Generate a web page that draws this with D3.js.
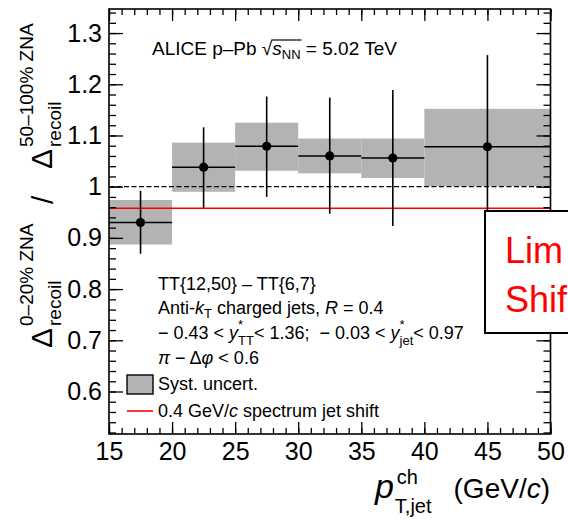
<!DOCTYPE html>
<html><head><meta charset="utf-8">
<script src="https://cdn.jsdelivr.net/npm/d3@7"></script>
<style>
body{margin:0;background:#fff}
svg{display:block}
text{font-family:"Liberation Sans",Arial,Helvetica,sans-serif;fill:#000;white-space:pre}
</style>
</head><body>
<svg id="c" width="568" height="519"></svg>
<script>
// ---------- data ----------
const binLow   = [15, 20, 25, 30, 35, 40];
const binHigh  = [20, 25, 30, 35, 40, 50];
const ptCenter = [17.5, 22.5, 27.5, 32.5, 37.5, 45];
const ratio    = [0.930, 1.038, 1.079, 1.060, 1.056, 1.078];
const statLow  = [0.869, 0.958, 0.980, 0.947, 0.923, 0.897];
const statHigh = [0.992, 1.116, 1.176, 1.174, 1.189, 1.257];
const systLow  = [0.887, 0.990, 1.031, 1.026, 1.017, 1.001];
const systHigh = [0.974, 1.086, 1.125, 1.094, 1.094, 1.152];
const shiftLevel = 0.958;
const refLevel = 1.0;
const xMajorTicks = [15, 20, 25, 30, 35, 40, 45, 50];
const xTickLabels = ["15","20","25","30","35","40","45","50"];
const yMajorTicks = [0.6, 0.7, 0.8, 0.9, 1.0, 1.1, 1.2, 1.3];
const yTickLabels = ["0.6","0.7","0.8","0.9","1","1.1","1.2","1.3"];
const xMinorTicks = d3.range(15, 51, 1);
const yMinorTicks = d3.range(26, 68, 1).map(v => +(v * 0.02).toFixed(2));
const xDomain = [15, 50];
const yDomain = [0.517, 1.347];

// ---------- layout ----------
const L = 109, R = 550.5, T = 9, B = 434;
const svg = d3.select("#c");
const x = d3.scaleLinear().domain(xDomain).range([L, R]);
const y = d3.scaleLinear().domain(yDomain).range([B, T]);
const GRAY = "#b3b3b3";
const idx = d3.range(ratio.length);

// syst boxes
svg.append("g").selectAll("rect").data(idx).join("rect")
  .attr("x", i => x(binLow[i])).attr("width", i => x(binHigh[i]) - x(binLow[i]))
  .attr("y", i => y(systHigh[i])).attr("height", i => y(systLow[i]) - y(systHigh[i]))
  .attr("fill", GRAY);

// reference line at 1
svg.append("line").attr("x1", x(xDomain[0])).attr("x2", x(xDomain[1]))
  .attr("y1", y(refLevel)).attr("y2", y(refLevel))
  .attr("stroke", "#000").attr("stroke-width", 1.2).attr("stroke-dasharray", "5,2.5");

// red shift line
svg.append("line").attr("x1", x(xDomain[0])).attr("x2", x(xDomain[1]))
  .attr("y1", y(shiftLevel)).attr("y2", y(shiftLevel))
  .attr("stroke", "#ff0000").attr("stroke-width", 1.6);

// error bars
const eb = svg.append("g").attr("stroke", "#000").attr("stroke-width", 1.6);
eb.selectAll("line.v").data(idx).join("line").attr("class", "v")
  .attr("x1", i => x(ptCenter[i])).attr("x2", i => x(ptCenter[i]))
  .attr("y1", i => y(statLow[i])).attr("y2", i => y(statHigh[i]));
eb.selectAll("line.h").data(idx).join("line").attr("class", "h")
  .attr("x1", i => x(binLow[i])).attr("x2", i => x(binHigh[i]))
  .attr("y1", i => y(ratio[i])).attr("y2", i => y(ratio[i]));
svg.append("g").selectAll("circle").data(idx).join("circle")
  .attr("cx", i => x(ptCenter[i])).attr("cy", i => y(ratio[i])).attr("r", 4.6).attr("fill", "#000");

// axes
function styleAxis(g) {
  g.select(".domain").remove();
  g.selectAll("line").attr("stroke", "#000").attr("stroke-width", 1.3);
  g.selectAll("text").attr("font-family", '"Liberation Sans",Arial,sans-serif').attr("font-size", 25).attr("fill", "#000");
}
svg.append("g").attr("transform", `translate(${L},0)`)
  .call(d3.axisLeft(y).tickValues(yMajorTicks).tickSize(-14).tickPadding(7).tickFormat((d, i) => yTickLabels[i])).call(styleAxis);
svg.append("g").attr("transform", `translate(${L},0)`)
  .call(d3.axisLeft(y).tickValues(yMinorTicks).tickSize(-7).tickFormat("")).call(styleAxis);
svg.append("g").attr("transform", `translate(${R},0)`)
  .call(d3.axisRight(y).tickValues(yMajorTicks).tickSize(-14).tickFormat("")).call(styleAxis);
svg.append("g").attr("transform", `translate(${R},0)`)
  .call(d3.axisRight(y).tickValues(yMinorTicks).tickSize(-7).tickFormat("")).call(styleAxis);
svg.append("g").attr("transform", `translate(0,${B})`)
  .call(d3.axisBottom(x).tickValues(xMajorTicks).tickSize(-12).tickPadding(8).tickFormat((d, i) => xTickLabels[i])).call(styleAxis);
svg.append("g").attr("transform", `translate(0,${B})`)
  .call(d3.axisBottom(x).tickValues(xMinorTicks).tickSize(-6).tickFormat("")).call(styleAxis);
svg.append("g").attr("transform", `translate(0,${T})`)
  .call(d3.axisTop(x).tickValues(xMajorTicks).tickSize(-12).tickFormat("")).call(styleAxis);
svg.append("g").attr("transform", `translate(0,${T})`)
  .call(d3.axisTop(x).tickValues(xMinorTicks).tickSize(-6).tickFormat("")).call(styleAxis);

svg.append("rect").attr("x", L).attr("y", T).attr("width", R - L).attr("height", B - T)
  .attr("fill", "none").attr("stroke", "#000").attr("stroke-width", 1.6);

// ---------- rich text helper ----------
function rich(parent, x0, y0, segs, rotate) {
  const g = parent.append("g").attr("transform", rotate ? `translate(${x0},${y0}) rotate(-90)` : `translate(${x0},${y0})`);
  let cur = 0, prevStart = 0;
  segs.forEach(s => {
    const start = s.same ? prevStart : cur + (s.gap || 0);
    const t = g.append("text").attr("x", start).attr("y", s.dy || 0)
      .attr("font-size", s.fs).attr("xml:space", "preserve").style("white-space", "pre").text(s.t);
    if (s.it) t.attr("font-style", "italic");
    if (s.fam) t.attr("font-family", s.fam);
    const w = t.node().getComputedTextLength();
    prevStart = start;
    cur = Math.max(start + w, cur);
    s.node = t; s.x = start; s.w = w;
  });
  return g;
}

// ALICE label
const al = [
  {t: "ALICE p\u2013Pb ", fs: 19},
  {t: "\u221A", fs: 19},
  {t: "s", fs: 19, it: true},
  {t: "NN", fs: 13, dy: 4},
  {t: " = 5.02 TeV", fs: 19}
];
const alg = rich(svg, 152, 55, al);
alg.append("line").attr("x1", al[1].x + al[1].w - 1).attr("x2", al[3].x + al[3].w + 1)
  .attr("y1", -15).attr("y2", -15).attr("stroke", "#000").attr("stroke-width", 1.2);

// info lines
const FS = 18, SFS = 13;
rich(svg, 158, 290, [{t: "TT{12,50} \u2013 TT{6,7}", fs: FS}]);
rich(svg, 158, 313.5, [
  {t: "Anti-", fs: FS}, {t: "k", fs: FS, it: true}, {t: "T", fs: SFS, dy: 4},
  {t: " charged jets, ", fs: FS}, {t: "R", fs: FS, it: true}, {t: " = 0.4", fs: FS}
]);
rich(svg, 158, 338.5, [
  {t: "\u2212 0.43 < ", fs: FS}, {t: "y", fs: FS, it: true},
  {t: "*", fs: SFS, dy: -9.5}, {t: "TT", fs: SFS, dy: 6.5, same: true},
  {t: "< 1.36;  \u2212 0.03 < ", fs: FS}, {t: "y", fs: FS, it: true},
  {t: "*", fs: SFS, dy: -9.5}, {t: "jet", fs: SFS, dy: 6.5, same: true},
  {t: "< 0.97", fs: FS}
]);
rich(svg, 158, 363.5, [
  {t: "\u03C0", fs: FS, it: true}, {t: " \u2212 \u0394", fs: FS}, {t: "\u03C6", fs: FS, it: true}, {t: " < 0.6", fs: FS}
]);
// legend
svg.append("rect").attr("x", 127).attr("y", 375).attr("width", 26).attr("height", 19)
  .attr("fill", GRAY).attr("stroke", "#000").attr("stroke-width", 1.4);
rich(svg, 158, 390, [{t: "Syst. uncert.", fs: FS}]);
svg.append("line").attr("x1", 127).attr("x2", 153).attr("y1", 411).attr("y2", 411)
  .attr("stroke", "#ff0000").attr("stroke-width", 1.6);
rich(svg, 158, 417, [{t: "0.4 GeV/", fs: FS}, {t: "c", fs: FS, it: true}, {t: " spectrum jet shift", fs: FS}]);

// y title (rotated pieces)
rich(svg, 52, 348, [{t: "\u0394", fs: 30}], true);
rich(svg, 61, 326, [{t: "recoil", fs: 19}], true);
rich(svg, 33, 326, [{t: "0\u201320% ZNA", fs: 19}], true);
rich(svg, 53, 204, [{t: "/", fs: 30}], true);
rich(svg, 52, 169, [{t: "\u0394", fs: 30}], true);
rich(svg, 61, 147, [{t: "recoil", fs: 19}], true);
rich(svg, 33, 147, [{t: "50\u2013100% ZNA", fs: 19}], true);

// x title
const xt = svg.append("g");
const gev = xt.append("text").attr("x", 550).attr("y", 498).attr("text-anchor", "end").attr("font-size", 28);
gev.append("tspan").text("(GeV/");
gev.append("tspan").attr("font-style", "italic").text("c");
gev.append("tspan").text(")");
const gw = gev.node().getComputedTextLength();
const subX0 = 550 - gw - 22;
const sub = xt.append("text").attr("x", subX0).attr("y", 513).attr("text-anchor", "end").attr("font-size", 20).text("T,jet");
const sw = sub.node().getComputedTextLength();
xt.append("text").attr("x", subX0 - sw + 2).attr("y", 484).attr("font-size", 20).text("ch");
xt.append("text").attr("x", subX0 - sw - 1).attr("y", 498).attr("text-anchor", "end")
  .attr("font-size", 34).attr("font-style", "italic").text("p");

// overlay annotation box (slide callout)
svg.append("rect").attr("x", 485).attr("y", 211).attr("width", 100).attr("height", 122)
  .attr("fill", "#fff").attr("stroke", "#000").attr("stroke-width", 2);
svg.append("text").attr("x", 505).attr("y", 263).attr("font-family", "Lato, 'Open Sans', sans-serif")
  .attr("font-size", 36).style("fill", "#ff0000").text("Lim");
svg.append("text").attr("x", 505).attr("y", 312).attr("font-family", "Lato, 'Open Sans', sans-serif")
  .attr("font-size", 36).style("fill", "#ff0000").text("Shif");
</script>
</body></html>
